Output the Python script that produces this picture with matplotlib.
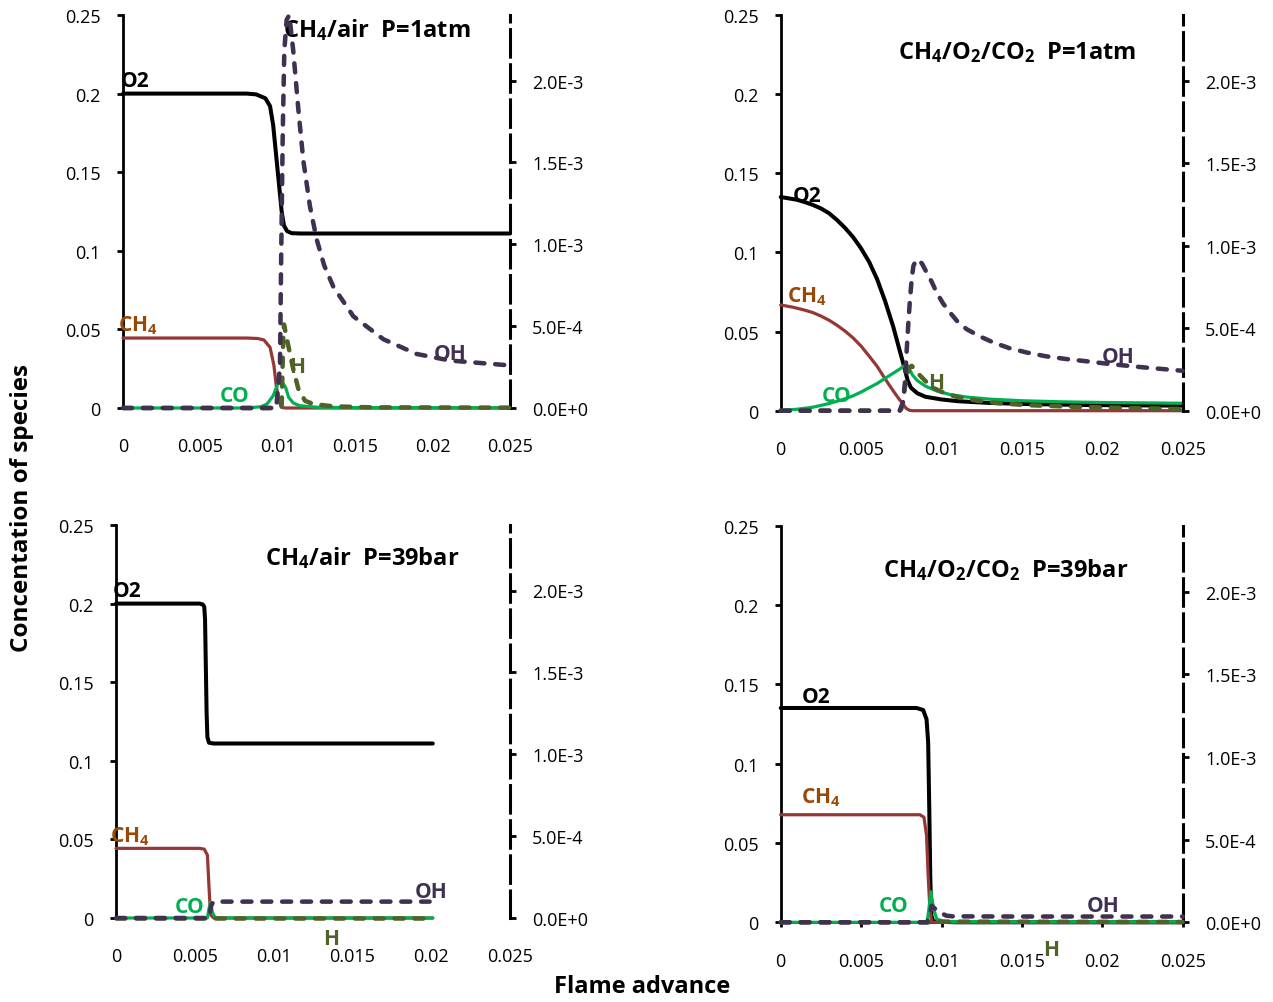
import matplotlib
matplotlib.use("Agg")
import matplotlib.pyplot as plt

FONT = "Open Sans"
plt.rcParams["font.family"] = [FONT, "DejaVu Sans"]
plt.rcParams["mathtext.fontset"] = "custom"
plt.rcParams["mathtext.rm"] = FONT
plt.rcParams["mathtext.bf"] = FONT + ":bold"
plt.rcParams["mathtext.default"] = "bf"

# ---------------- CH4/air, P = 1 atm ----------------
a_o2_x = [0, 0.002, 0.004, 0.006, 0.008, 0.0086, 0.0092, 0.0095, 0.0097, 0.0099,
          0.0101, 0.01025, 0.0104, 0.0106, 0.0109, 0.0115, 0.013, 0.016, 0.02, 0.025]
a_o2_y = [0.2, 0.2, 0.2, 0.2, 0.2, 0.1995, 0.197, 0.192, 0.18, 0.16,
          0.14, 0.125, 0.116, 0.1125, 0.1112, 0.111, 0.111, 0.111, 0.111, 0.111]
a_ch4_x = [0, 0.004, 0.008, 0.0087, 0.0091, 0.0095, 0.00975, 0.0099, 0.0101, 0.01025,
           0.0105, 0.015, 0.025]
a_ch4_y = [0.0445, 0.0445, 0.0445, 0.0442, 0.0433, 0.0386, 0.027, 0.0142, 0.0036, 0.0004,
           0, 0, 0]
a_co_x = [0, 0.008, 0.0089, 0.0093, 0.0097, 0.01, 0.01025, 0.0105, 0.0107, 0.011,
          0.0114, 0.0125, 0.015, 0.025]
a_co_y = [0, 0, 0.0008, 0.0025, 0.0078, 0.0153, 0.0167, 0.0132, 0.0068, 0.0032,
          0.0015, 0.0005, 0.0002, 0.0001]
a_h_x = [0, 0.01, 0.01025, 0.01036, 0.0104, 0.01068, 0.011, 0.01133, 0.01176, 0.0123,
         0.01357, 0.016, 0.025]
a_h_y = [0, 0, 0.00001, 0.00046, 0.00051, 0.000379, 0.000237, 0.000116, 0.000044, 0.000024,
         0.00001, 0.000004, 0.000002]
a_oh_x = [0, 0.0099, 0.01014, 0.01021, 0.01032, 0.01042, 0.01057, 0.01074, 0.011, 0.01133,
          0.01165, 0.01208, 0.01251, 0.013, 0.01359, 0.01488, 0.01682, 0.01897, 0.02112, 0.025]
a_oh_y = [0, 0, 0.000257, 0.000865, 0.00168, 0.00218, 0.00237, 0.0024, 0.00218, 0.00182,
          0.00151, 0.00123, 0.00103, 0.00087, 0.00074, 0.00056, 0.00042, 0.00033, 0.00029, 0.00026]

# ---------------- CH4/O2/CO2, P = 1 atm ----------------
b_o2_x = [0, 0.001, 0.0015, 0.002, 0.0025, 0.003, 0.0035, 0.004, 0.0045, 0.005,
          0.0055, 0.006, 0.0065, 0.007, 0.0074, 0.0077, 0.0079, 0.0081, 0.0085, 0.009,
          0.01, 0.011, 0.013, 0.015, 0.019, 0.025]
b_o2_y = [0.135, 0.1333, 0.1318, 0.130, 0.1278, 0.1248, 0.1205, 0.1155, 0.1097, 0.1025,
          0.094, 0.083, 0.069, 0.053, 0.038, 0.027, 0.019, 0.0145, 0.011, 0.0088,
          0.0071, 0.006, 0.0049, 0.0043, 0.0036, 0.0032]
b_ch4_x = [0, 0.0008, 0.0015, 0.002, 0.0025, 0.003, 0.0035, 0.004, 0.0045, 0.005,
           0.0055, 0.006, 0.0065, 0.007, 0.0073, 0.0076, 0.0078, 0.008, 0.0082, 0.015, 0.025]
b_ch4_y = [0.0668, 0.0653, 0.0635, 0.062, 0.0598, 0.0572, 0.054, 0.0503, 0.046, 0.0408,
           0.0345, 0.028, 0.020, 0.0125, 0.0082, 0.0042, 0.0015, 0.0003, 0, 0, 0]
b_co_x = [0, 0.001, 0.002, 0.003, 0.0035, 0.004, 0.0045, 0.005, 0.0055, 0.006,
          0.0065, 0.007, 0.0074, 0.0077, 0.00785, 0.008, 0.0082, 0.0085, 0.009, 0.0097,
          0.0105, 0.0115, 0.013, 0.015, 0.0175, 0.02, 0.025]
b_co_y = [0.0002, 0.0009, 0.0022, 0.0045, 0.006, 0.0075, 0.0094, 0.0118, 0.0145, 0.0172,
          0.0205, 0.0237, 0.0263, 0.0285, 0.029, 0.0265, 0.0225, 0.019, 0.0155, 0.0125,
          0.0103, 0.0087, 0.0073, 0.0063, 0.0056, 0.0052, 0.0047]
b_h_x = [0, 0.0074, 0.0075, 0.00762, 0.00775, 0.00784, 0.008, 0.00815, 0.0083, 0.0086,
         0.009, 0.0095, 0.0103, 0.0112, 0.0122, 0.0135, 0.0153, 0.0175, 0.0194, 0.025]
b_h_y = [0, 0, 0.00001, 0.00007, 0.00016, 0.00021, 0.000262, 0.000272, 0.000255, 0.00022,
         0.00018, 0.000138, 0.000101, 0.000078, 0.000061, 0.000046, 0.000034, 0.000026,
         0.000021, 0.00001]
b_oh_x = [0, 0.0074, 0.0076, 0.00773, 0.00784, 0.00795, 0.00804, 0.00815, 0.00825, 0.0084,
          0.00856, 0.0088, 0.00908, 0.0094, 0.0097, 0.0101, 0.01053, 0.011, 0.01157, 0.0124,
          0.01322, 0.0142, 0.0153, 0.0165, 0.01779, 0.019, 0.02048, 0.02255, 0.025]
b_oh_y = [0, 0, 0.00005, 0.000172, 0.000373, 0.00055, 0.000676, 0.0008, 0.000877, 0.00091,
          0.000918, 0.00089, 0.000837, 0.00078, 0.000716, 0.00065, 0.000595, 0.00054, 0.000494,
          0.00045, 0.000414, 0.00038, 0.000353, 0.00033, 0.000313, 0.0003, 0.000283, 0.000263,
          0.000242]

# ---------------- CH4/air, P = 39 bar ----------------
c_o2_x = [0, 0.003, 0.0053, 0.0055, 0.0056, 0.00565, 0.0057, 0.00575, 0.0058, 0.0059,
          0.0062, 0.01, 0.015, 0.0201]
c_o2_y = [0.2, 0.2, 0.2, 0.1995, 0.198, 0.19, 0.16, 0.13, 0.115, 0.1115,
          0.111, 0.111, 0.111, 0.111]
c_ch4_x = [0, 0.003, 0.0053, 0.0056, 0.0058, 0.0059, 0.006, 0.0062, 0.01, 0.0201]
c_ch4_y = [0.0443, 0.0443, 0.0443, 0.0438, 0.04, 0.02, 0.002, 0, 0, 0]
c_co_x = [0, 0.0058, 0.0059, 0.006, 0.0061, 0.0063, 0.0201]
c_co_y = [0, 0, 0.006, 0.01, 0.004, 0, 0]
c_h_x = [0, 0.006, 0.0201]
c_h_y = [0, 0, 0]
c_oh_x = [0, 0.0059, 0.00605, 0.0062, 0.01, 0.0199]
c_oh_y = [0, 0, 0.00008, 0.0001, 0.0001, 0.0001]

# ---------------- CH4/O2/CO2, P = 39 bar ----------------
d_o2_x = [0, 0.004, 0.00845, 0.00886, 0.00907, 0.00917, 0.00924, 0.0093, 0.00937, 0.00949,
          0.011, 0.025]
d_o2_y = [0.1351, 0.1351, 0.1351, 0.1338, 0.128, 0.1135, 0.0714, 0.0294, 0.0042, 0.0004,
          0, 0]
d_ch4_x = [0, 0.004, 0.00866, 0.00891, 0.00907, 0.00917, 0.00928, 0.00939, 0.011, 0.025]
d_ch4_y = [0.0678, 0.0678, 0.0678, 0.0662, 0.0546, 0.0294, 0.0084, 0, 0, 0]
d_co_x = [0, 0.0091, 0.0092, 0.00934, 0.0095, 0.0097, 0.0102, 0.015, 0.025]
d_co_y = [0, 0, 0.007, 0.0193, 0.009, 0.002, 0.0005, 0.0003, 0.0003]
d_h_x = [0, 0.0093, 0.0096, 0.025]
d_h_y = [0, 0, 0.000004, 0.000002]
d_oh_x = [0, 0.0091, 0.00925, 0.00939, 0.0098, 0.0103, 0.0107, 0.015, 0.025]
d_oh_y = [0, 0, 0.00004, 0.0001, 0.000065, 0.00004, 0.000036, 0.000035, 0.000035]

x_ticks = [0, 0.005, 0.01, 0.015, 0.02, 0.025]
x_tick_labels = ["0", "0.005", "0.01", "0.015", "0.02", "0.025"]
y_ticks = [0, 0.05, 0.1, 0.15, 0.2, 0.25]
y_tick_labels = ["0", "0.05", "0.1", "0.15", "0.2", "0.25"]
y2_ticks = [0, 0.0005, 0.001, 0.0015, 0.002]
y2_tick_labels = ["0.0E+0", "5.0E-4", "1.0E-3", "1.5E-3", "2.0E-3"]

C_O2 = "#000000"
C_CH4 = "#953735"
C_CH4_TXT = "#984807"
C_CO = "#00B050"
C_H = "#4F6228"
C_OH = "#403152"

W, H = 1273, 1003
fig = plt.figure(figsize=(W / 100, H / 100), dpi=100)


def box(x0, x1, top, bottom):
    return [x0 / W, 1 - bottom / H, (x1 - x0) / W, (bottom - top) / H]


panels = [
    dict(rect=box(123, 510, 16, 409), data=(a_o2_x, a_o2_y, a_ch4_x, a_ch4_y, a_co_x, a_co_y,
                                              a_h_x, a_h_y, a_oh_x, a_oh_y),
         title=(0.01036, 0.2364, r"CH$_4$/air  P=1atm"),
         labels=[(-0.00013, 0.2046, "O2"), (-0.00032, 0.0492, "CH4"), (0.00622, 0.00464, "CO"),
                 (0.01074, 0.0231, "H"), (0.0201, 0.0312, "OH")],
         xaxis=False),
    dict(rect=box(780.7, 1182.7, 16, 411.7), data=(b_o2_x, b_o2_y, b_ch4_x, b_ch4_y, b_co_x, b_co_y,
                                                     b_h_x, b_h_y, b_oh_x, b_oh_y),
         title=(0.00731, 0.2226, r"CH$_4$/O$_2$/CO$_2$  P=1atm"),
         labels=[(0.00078, 0.1327, "O2"), (0.00041, 0.0689, "CH4"), (0.00255, 0.00632, "CO"),
                 (0.00916, 0.01415, "H"), (0.01996, 0.0306, "OH")],
         xaxis=False),
    dict(rect=box(116, 510, 526, 919), data=(c_o2_x, c_o2_y, c_ch4_x, c_ch4_y, c_co_x, c_co_y,
                                               c_h_x, c_h_y, c_oh_x, c_oh_y),
         title=(0.00945, 0.2252, r"CH$_4$/air  P=39bar"),
         labels=[(-0.00021, 0.205, "O2"), (-0.00038, 0.0485, "CH4"), (0.00374, 0.0036, "CO"),
                 (0.01312, -0.0165, "H"), (0.01897, 0.01355, "OH")],
         xaxis=False),
    dict(rect=box(780.7, 1182.7, 526.7, 923.3), data=(d_o2_x, d_o2_y, d_ch4_x, d_ch4_y, d_co_x, d_co_y,
                                                        d_h_x, d_h_y, d_oh_x, d_oh_y),
         title=(0.00638, 0.2185, r"CH$_4$/O$_2$/CO$_2$  P=39bar"),
         labels=[(0.00131, 0.1391, "O2"), (0.00124, 0.0756, "CH4"), (0.00611, 0.0073, "CO"),
                 (0.01633, -0.0206, "H"), (0.01903, 0.0073, "OH")],
         xaxis=True),
]

label_colors = {"O2": C_O2, "CH4": C_CH4_TXT, "CO": C_CO, "H": C_H, "OH": C_OH}
label_text = {"O2": "O2", "CH4": r"CH$_4$", "CO": "CO", "H": "H", "OH": "OH"}

dash_pat = (2.0, 2.4)

for p in panels:
    o2x, o2y, ch4x, ch4y, cox, coy, hx, hy, ohx, ohy = p["data"]
    ax = fig.add_axes(p["rect"])
    ax2 = ax.twinx()
    ax.set_zorder(1)
    ax.patch.set_visible(False)
    ax2.set_zorder(2)

    ax.plot(o2x, o2y, color=C_O2, lw=2.9, solid_capstyle="round", zorder=3, clip_on=False)
    ax.plot(ch4x, ch4y, color=C_CH4, lw=2.3, solid_capstyle="round", zorder=3, clip_on=False)
    ax.plot(cox, coy, color=C_CO, lw=2.3, solid_capstyle="round", zorder=3, clip_on=False)
    ax2.plot(hx, hy, color=C_H, lw=3.25, dashes=dash_pat, dash_capstyle="round",
             zorder=3, clip_on=False)
    ax2.plot(ohx, ohy, color=C_OH, lw=3.25, dashes=dash_pat, dash_capstyle="round",
             zorder=4, clip_on=False)

    ax.set_xlim(0, 0.025)
    ax.set_ylim(0, 0.25)
    ax2.set_ylim(0, 0.0024)

    ax.set_yticks(y_ticks)
    ax.set_yticklabels(y_tick_labels)
    ax.set_xticks(x_ticks)
    ax.set_xticklabels(x_tick_labels)
    ax2.set_yticks(y2_ticks)
    ax2.set_yticklabels(y2_tick_labels)

    for a in (ax, ax2):
        a.spines["top"].set_visible(False)
    ax.spines["right"].set_visible(False)
    ax2.spines["left"].set_visible(False)
    ax2.spines["bottom"].set_visible(False)

    ax.spines["left"].set_linewidth(2.0)
    ax.spines["left"].set_color("black")
    ax2.spines["right"].set_linewidth(2.2)
    ax2.spines["right"].set_linestyle((0, (9, 2.5)))
    ax2.spines["right"].set_color("black")

    ax.tick_params(axis="y", direction="out", length=4.5, width=2.0, pad=11.5,
                   labelsize=13, colors="black")
    ax2.tick_params(axis="y", direction="out", length=4, width=2.0, pad=12,
                    labelsize=13, colors="black")
    if p["xaxis"]:
        ax.spines["bottom"].set_linewidth(2.0)
        ax.tick_params(axis="x", direction="out", length=3.6, width=2.0, pad=17.5,
                       labelsize=13)
    else:
        ax.spines["bottom"].set_visible(False)
        ax.tick_params(axis="x", length=0, pad=21, labelsize=13)

    tx, ty, tt = p["title"]
    ax.text(tx, ty, tt, fontsize=17, fontweight="bold", ha="left", va="baseline",
            zorder=6, clip_on=False)
    for lx, ly, key in p["labels"]:
        ax.text(lx, ly, label_text[key], color=label_colors[key], fontsize=15,
                fontweight="bold", ha="left", va="baseline", zorder=6, clip_on=False)

fig.text(22 / W, 1 - 508 / H, "Concentation of species", rotation=90, ha="center",
         va="center", fontsize=17.5, fontweight="bold")
fig.text(642 / W, 1 - 987 / H, "Flame advance", ha="center", va="center",
         fontsize=17, fontweight="bold")

fig.savefig("out.png", dpi=100)
